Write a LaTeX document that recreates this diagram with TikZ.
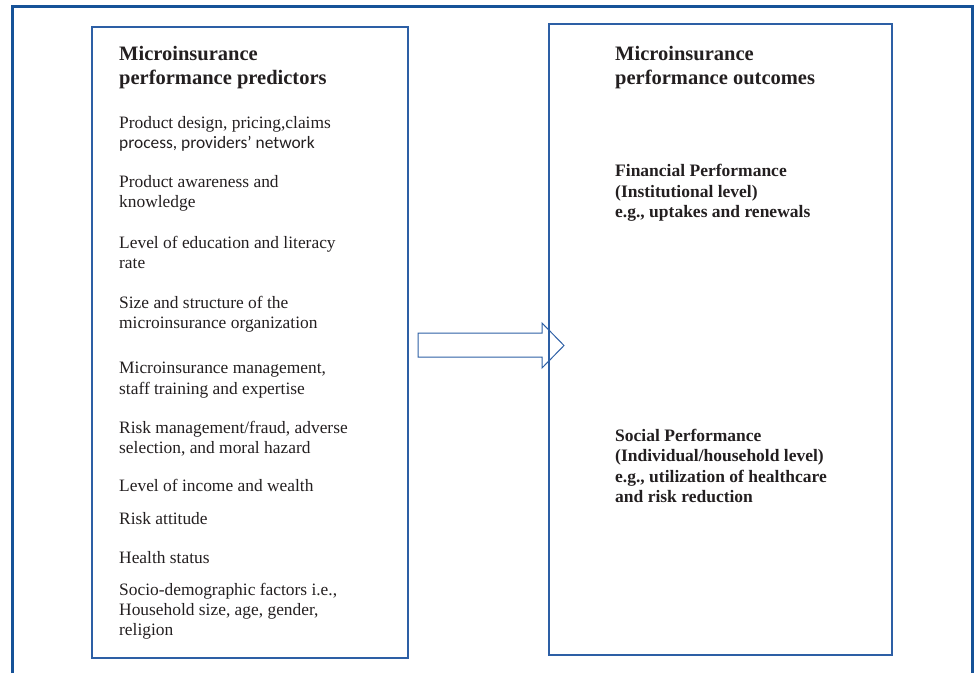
\documentclass[tikz,border=0pt]{standalone}
\usepackage{fontspec}
\setmainfont{Liberation Serif}
\newfontfamily\calfont{Carlito}
\usetikzlibrary{positioning}
\definecolor{frameblue}{RGB}{22,82,152}
\definecolor{boxblue}{RGB}{45,95,165}
\definecolor{inkgray}{RGB}{35,31,32}
% multi-line nodes sit on the baseline of their last line
\tikzset{
  panel/.style={draw=boxblue, line width=1.3pt, inner sep=0pt},
  heading/.style={anchor=base west, align=left, inner sep=0pt, text=inkgray,
    font=\bfseries\fontsize{20.5}{23.7}\selectfont},
  factor/.style={anchor=base west, align=left, inner sep=0pt, text=inkgray,
    font=\fontsize{17.4}{20.2}\selectfont},
  outcome/.style={anchor=base west, align=left, inner sep=0pt, text=inkgray,
    font=\bfseries\fontsize{17.5}{20.3}\selectfont},
}

\begin{document}
\begin{tikzpicture}[x=1pt,y=-1pt]
\useasboundingbox (0,0) rectangle (976,673);

% outer frame (open at the bottom)
\draw[frameblue, line width=3pt] (12,673) -- (12,6) -- (972,6) -- (972,673);

% panels
\node[panel, minimum width=316pt, minimum height=631pt] (predictors) at (250,342.5) {};
\node[panel, minimum width=343pt, minimum height=631pt] (outcomes) at (720.5,339.5) {};

% left panel
\node[heading] (phead) at (119,84.3) {Microinsurance\\performance predictors};
\node[factor] (p1) at (119,148.3) {Product design, pricing,claims\\{\calfont process, providers’ network}};
\node[factor] (p2) at (119,207.9) {Product awareness and\\knowledge};
\node[factor] (p3) at (119,268.3) {Level of education and literacy\\rate};
\node[factor] (p4) at (119,328.7) {Size and structure of the\\microinsurance organization};
\node[factor] (p5) at (119,394) {Microinsurance management,\\staff training and expertise};
\node[factor] (p6) at (119,453.7) {Risk management/fraud, adverse\\selection, and moral hazard};
\node[factor] (p7) at (119,491) {Level of income and wealth};
\node[factor] (p8) at (119,524) {Risk attitude};
\node[factor] (p9) at (119,563.3) {Health status};
\node[factor] (p10) at (119,635.5) {Socio-demographic factors i.e.,\\Household size, age, gender,\\religion};

% right panel
\node[heading] (ohead) at (615,84.3) {Microinsurance\\performance outcomes};
\node[outcome] (o1) at (615,217.5) {Financial Performance\\(Institutional level)\\e.g., uptakes and renewals};
\node[outcome] (o2) at (615,502.3) {Social Performance\\(Individual/household level)\\e.g., utilization of healthcare\\and risk reduction};

% block arrow between the panels
\draw[boxblue, line width=1pt, line join=miter]
  (418,333) -- (542,333) -- (542,323) -- (564,345.5)
  -- (542,368) -- (542,357) -- (418,357) -- cycle;
\end{tikzpicture}
\end{document}
